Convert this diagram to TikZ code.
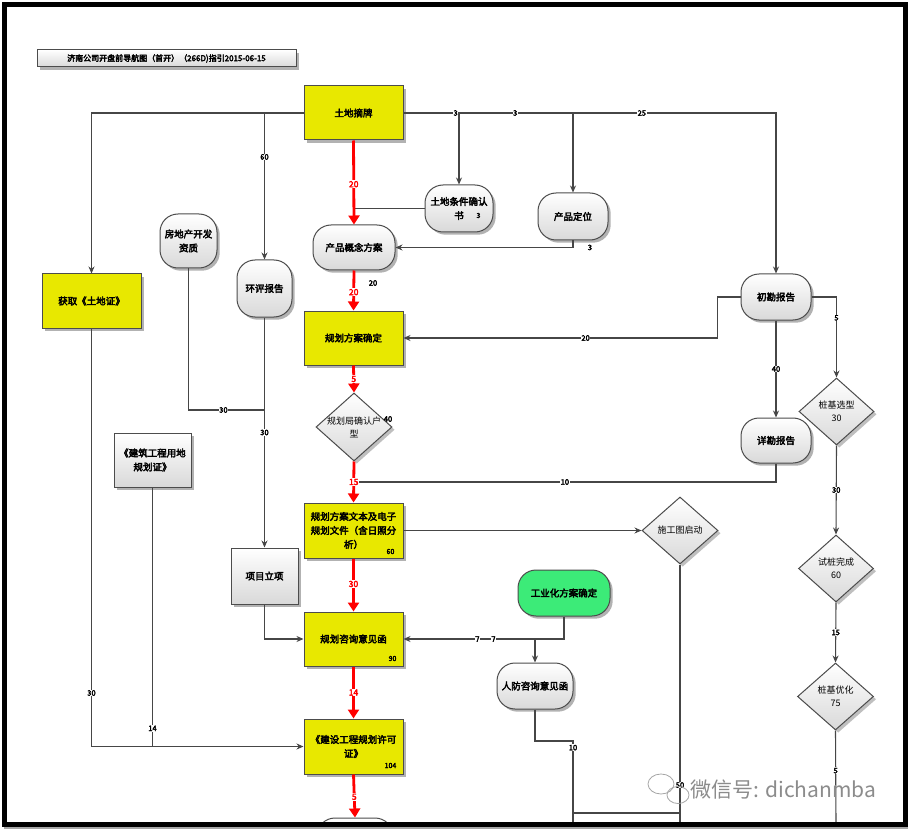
\documentclass[tikz,border=0pt]{standalone}
\usepackage{fontspec}
\setmainfont{Noto Sans CJK SC}[AutoFakeBold=3.5]
\usetikzlibrary{shapes.geometric,arrows.meta,shadows,calc}
\definecolor{yel}{RGB}{232,232,0}
\definecolor{grn}{RGB}{60,235,120}
\definecolor{edge}{RGB}{70,70,70}
\newcommand\nf{\fontsize{9.5}{14}\selectfont\bfseries}
\tikzset{
  ybox/.style={rectangle, draw=black!70, line width=1pt, fill=yel, drop shadow={opacity=.6}, font=\nf, align=center, inner sep=1pt},
  gbox/.style={rectangle, draw=black!70, line width=1pt, top color=white, bottom color=black!15, drop shadow={opacity=.6}, font=\nf, align=center, inner sep=1pt},
  rbox/.style={gbox, rounded corners=18pt},
  gnbox/.style={rectangle, rounded corners=18pt, draw=black!70, line width=1pt, fill=grn, drop shadow={opacity=.6}, font=\nf, align=center, inner sep=1pt},
  dbox/.style={diamond, draw=black!70, line width=1pt, top color=white, bottom color=black!15, drop shadow={opacity=.5}, font=\fontsize{9}{13}\selectfont, align=center, inner sep=0pt},
  garr/.style={draw=edge, line width=1.1pt, -{Stealth[length=7pt,width=6pt]}},
  gline/.style={draw=edge, line width=1.1pt},
  rarr/.style={draw=red, line width=2.8pt, -{Triangle[length=9pt,width=11pt]}},
  lbl/.style={fill=white, inner sep=.6pt, font=\fontsize{7.5}{8}\selectfont\bfseries},
  rlbl/.style={lbl, text=red, font=\fontsize{8.5}{9}\selectfont\bfseries},
  num/.style={inner sep=0pt, font=\fontsize{7}{8}\selectfont\bfseries},
}
\begin{document}
\begin{tikzpicture}[x=1pt,y=-1pt]
\useasboundingbox (0,0) rectangle (908,829);
\fill[white] (0,0) rectangle (908,829);

\node[gbox, minimum width=259, minimum height=17, font=\fontsize{8}{9}\selectfont\bfseries, inner sep=0pt] (title) at (166.5,58.5) {济南公司开盘前导航图（首开）（266D)指引2015-06-15};

\node[ybox, minimum width=99, minimum height=54] (zhaipai) at (353.5,113) {土地摘牌};
\node[ybox, minimum width=99, minimum height=54] (tudizheng) at (91.5,301) {获取《土地证》};
\node[rbox, minimum width=57, minimum height=54] (zizhi) at (188.5,241) {房地产开发\\资质};
\node[rbox, minimum width=55, minimum height=57] (huanping) at (264.5,288.5) {环评报告};
\node[rbox, minimum width=82, minimum height=45] (gainian) at (354,247.5) {产品概念方案};
\node[rbox, minimum width=68, minimum height=47] (tiaojian) at (459,208.5) {土地条件确认\\书};
\node[num] (n3) at ([xshift=-15pt,yshift=17pt]tiaojian.south east) {3};
\node[rbox, minimum width=70, minimum height=47] (dingwei) at (573,216.5) {产品定位};
\node[rbox, minimum width=70, minimum height=46] (chukan) at (776,297) {初勘报告};
\node[ybox, minimum width=99, minimum height=54] (fangan) at (353.5,338) {规划方案确定};
\node[dbox, minimum width=76, minimum height=68] (huxing) at (354,427) {\makebox[0pt]{规划局确认户}\\型};
\node[rbox, minimum width=70, minimum height=45] (xiangkan) at (776,440.5) {详勘报告};
\node[dbox, minimum width=75, minimum height=67] (xuanxing) at (836.5,411.5) {\makebox[0pt]{桩基选型}\\30};
\node[gbox, minimum width=77, minimum height=54] (yongdi) at (152.5,460) {《建筑工程用地\\规划证》};
\node[ybox, minimum width=99, minimum height=55] (wenben) at (353.5,530.5) {规划方案文本及电子\\规划文件（含日照分\\析）};
\node[num] (n60) at ([xshift=-13pt,yshift=7pt]wenben.south east) {60};
\node[dbox, minimum width=76, minimum height=67] (shigong) at (680,530.5) {\makebox[0pt]{施工图启动}};
\node[gbox, minimum width=67, minimum height=56] (lixiang) at (264.5,576) {项目立项};
\node[dbox, minimum width=75, minimum height=67] (shizhuang) at (836,568.5) {\makebox[0pt]{试桩完成}\\60};
\node[gnbox, minimum width=92, minimum height=46] (gongye) at (564,593) {工业化方案确定};
\node[ybox, minimum width=99, minimum height=54] (zixun) at (353.5,639) {规划咨询意见函};
\node[num] (n90) at ([xshift=-11pt,yshift=8pt]zixun.south east) {90};
\node[rbox, minimum width=76, minimum height=46] (renfang) at (535,686) {人防咨询意见函};
\node[dbox, minimum width=76, minimum height=67] (youhua) at (835.5,696.5) {\makebox[0pt]{桩基优化}\\75};
\node[ybox, minimum width=99, minimum height=55] (xuke) at (353.5,746.5) {《建设工程规划许可\\证》};
\node[num] (n104) at ([xshift=-13pt,yshift=9pt]xuke.south east) {104};
\begin{scope}
\clip (0,0) rectangle (908,822);
\node[rbox, minimum width=76, minimum height=44] (next) at (355,840) {};
\end{scope}

\draw[garr] (zhaipai.west) -| (tudizheng.north);
\draw[garr] (zhaipai.west -| huanping.north) -- node[lbl, pos=.3] {60} (huanping.north);
\draw[garr] (zhaipai.east) -- node[lbl, pos=.14] {3} node[lbl, pos=.3] {3} node[lbl, pos=.64] {25} (zhaipai.east -| chukan.north) -- (chukan.north);
\draw[garr] (zhaipai.east -| tiaojian.north) -- (tiaojian.north);
\draw[garr] (zhaipai.east -| dingwei.north) -- (dingwei.north);
\draw[gline] (tiaojian.west) -- (tiaojian.west -| gainian.north);
\draw[garr] (dingwei.south) |- node[lbl, pos=.5, xshift=17pt, fill=none] {3} (gainian.east);
\draw[garr] (chukan.west) -- ++(-23,0) |- node[lbl, pos=.71] {20} (fangan.east);
\draw[garr] (chukan.east) -| node[lbl, pos=.63] {5} (xuanxing.north);
\draw[garr] (chukan.south) -- node[lbl] {40} (xiangkan.north);
\coordinate (j15) at ($(huxing.south)!.5!(wenben.north)$);
\draw[gline] (xiangkan.south) |- node[lbl, pos=.75] {10} (j15);
\draw[garr] (xuanxing.south) -- node[lbl] {30} (shizhuang.north);
\draw[garr] (shizhuang.south) -- node[lbl] {15} (youhua.north);
\coordinate (e3) at (836,824);
\draw[gline] (youhua.south) -- node[lbl, pos=.43] {5} (e3);
\coordinate (j30) at (264.5,410);
\draw[gline] (zizhi.south) |- node[lbl, pos=.73] {30} (j30);
\draw[garr] (huanping.south) -- node[lbl] {30} (lixiang.north);
\draw[garr] (lixiang.south) |- (zixun.west);
\draw[garr] (wenben.east) -- (shigong.west);
\coordinate (e1) at (680,824);
\draw[gline] (shigong.south) -- node[lbl, pos=.85] {50} (e1);
\draw[garr] (gongye.south) |- node[lbl, pos=.77] {7} node[lbl, pos=.72] {7} (zixun.east);
\draw[garr] (renfang.north |- zixun.east) -- (renfang.north);
\draw[garr] (tudizheng.south) |- node[lbl, pos=.436] {30} (xuke.west);
\draw[gline] (yongdi.south) -- node[lbl, pos=.93] {14} (yongdi.south |- xuke.west);
\coordinate (k1) at (573,741);
\coordinate (e2) at (573,824);
\draw[gline] (renfang.south) |- (k1) -- node[lbl, pos=.08] {10} (e2);
\coordinate (k2) at (573,813);
\coordinate (k3) at (680,813);
\draw[gline] (k2) -- (k3);

\draw[rarr] (zhaipai.south) -- node[rlbl, pos=.52] {20} (gainian.north);
\draw[rarr] (gainian.south) -- node[rlbl, pos=.54] {20} (fangan.north);
\node[lbl, fill=none] (l20) at (373,283) {20};
\draw[rarr] (fangan.south) -- node[rlbl] {5} (huxing.north);
\node[lbl, fill=none] (l40) at (388,419) {40};
\draw[rarr] (huxing.south) -- node[rlbl] {15} (wenben.north);
\draw[rarr] (wenben.south) -- node[rlbl, pos=.48] {30} (zixun.north);
\draw[rarr] (zixun.south) -- node[rlbl] {14} (xuke.north);
\draw[rarr] (xuke.south) -- node[rlbl, pos=.52] {5} (next.north);

\draw[black!35, line width=.8pt] (661,784) ellipse [x radius=13pt, y radius=10pt];
\draw[black!35, line width=.8pt] (678,795) ellipse [x radius=11pt, y radius=8.5pt];
\node[anchor=west, text=black!45, font=\fontsize{21}{22}\selectfont, inner sep=0pt] (wm) at (690,790) {微信号: dichanmba};

\draw[line width=5pt] (4.5,4.5) rectangle (905,824);
\draw[black!35, line width=2pt] (4,828) -- (908,828);
\end{tikzpicture}
\end{document}
